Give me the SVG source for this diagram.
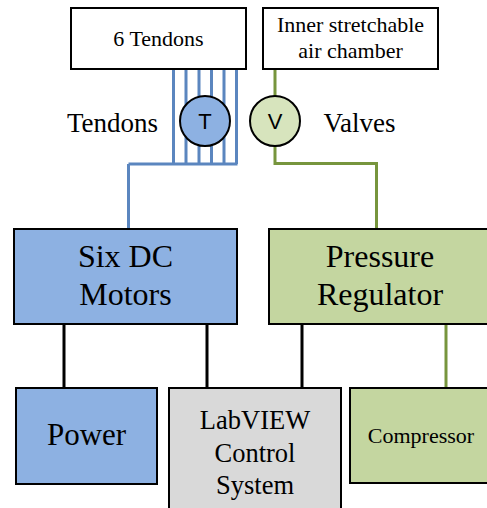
<svg xmlns="http://www.w3.org/2000/svg" width="487" height="508" viewBox="0 0 487 508">
<style>
.box{stroke:#000;stroke-width:2}
.blue{fill:#8DB1E2}
.green{fill:#C4D6A0}
.gray{fill:#D9D9D9}
.white{fill:#fff}
.bl{fill:none;stroke:#5B86BF;stroke-width:3}
.gl{fill:none;stroke:#77953D;stroke-width:3}
.kl{fill:none;stroke:#000;stroke-width:3}
</style>
<rect width="487" height="508" fill="#fff"/>
<g id="connectors">
<path class="bl" d="M173.5 69V164M186 69V164M199 69V164M211.5 69V164M224 69V164M236.5 69V164M128.5 164H237.5M128.5 164V229"/>
<path class="gl" d="M275 69V96M275 146V163.5H376.5V229"/>
<path class="kl" d="M64 324V388M207 324V388M302 324V388"/>
<path class="gl" d="M446 324V388"/>
</g>
<g id="tendons-box"><rect class="box white" x="71" y="8" width="175" height="61"/><text font-family="Liberation Serif" text-anchor="middle" x="158.5" y="46" font-size="22">6 Tendons</text></g>
<g id="chamber-box"><rect class="box white" x="263" y="8" width="175" height="61"/><text font-family="Liberation Serif" text-anchor="middle" x="350.5" y="32" font-size="22">Inner stretchable</text><text font-family="Liberation Serif" text-anchor="middle" x="350.5" y="58" font-size="22">air chamber</text></g>
<g id="tendons-label"><text font-family="Liberation Serif" text-anchor="middle" x="112.5" y="132" font-size="27">Tendons</text></g>
<g id="valves-label"><text font-family="Liberation Serif" text-anchor="middle" x="359.5" y="132" font-size="27">Valves</text></g>
<g id="T-circle"><circle class="box blue" cx="205" cy="121" r="25"/><text font-family="Liberation Sans" text-anchor="middle" x="205" y="129" font-size="22">T</text></g>
<g id="V-circle"><circle class="box" fill="#D7E4BD" cx="275" cy="121" r="25"/><text font-family="Liberation Sans" text-anchor="middle" x="275" y="129" font-size="22">V</text></g>
<g id="motors"><rect class="box blue" x="14" y="229" width="223" height="95"/><text font-family="Liberation Serif" text-anchor="middle" x="125.5" y="267" font-size="32">Six DC</text><text font-family="Liberation Serif" text-anchor="middle" x="125.5" y="305" font-size="32">Motors</text></g>
<g id="regulator"><rect class="box green" x="269" y="229" width="223" height="95"/><text font-family="Liberation Serif" text-anchor="middle" x="380" y="267" font-size="32">Pressure</text><text font-family="Liberation Serif" text-anchor="middle" x="380" y="305" font-size="32">Regulator</text></g>
<g id="power"><rect class="box blue" x="16" y="388" width="141" height="96"/><text font-family="Liberation Serif" text-anchor="middle" x="86.5" y="445" font-size="31">Power</text></g>
<g id="labview"><rect class="box gray" x="169" y="388" width="172" height="125"/><text font-family="Liberation Serif" text-anchor="middle" x="255" y="429" font-size="26.5">LabVIEW</text><text font-family="Liberation Serif" text-anchor="middle" x="255" y="462" font-size="26.5">Control</text><text font-family="Liberation Serif" text-anchor="middle" x="255" y="494" font-size="26.5">System</text></g>
<g id="compressor"><rect class="box green" x="350" y="388" width="142" height="95"/><text font-family="Liberation Serif" text-anchor="middle" x="421" y="443" font-size="22">Compressor</text></g>
</svg>
